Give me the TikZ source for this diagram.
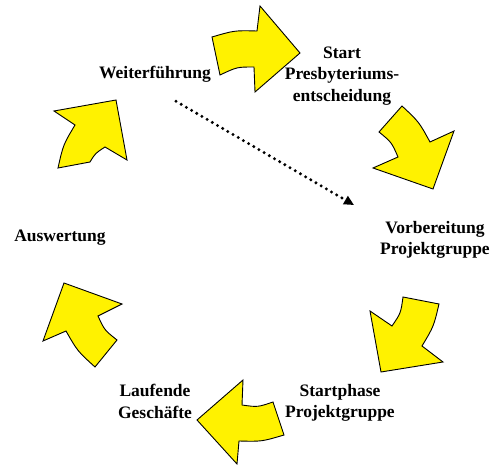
\documentclass[tikz,border=0pt]{standalone}
\usepackage{fontspec}
\setmainfont{Liberation Serif}
\usetikzlibrary{arrows.meta,positioning,calc}
\tikzset{
  >={Triangle[length=10pt,width=9pt]},
  label/.style={font=\bfseries\fontsize{17.5}{21.5}\selectfont,align=center,inner sep=0pt},
  blockarrow/.style={draw=black,fill=yellow,line width=0.9pt,line join=miter},
  dotarrow/.style={->,line width=3.3pt,line cap=round,dash pattern=on 0pt off 6pt},
}
\begin{document}
\begin{tikzpicture}[x=1pt,y=-1pt]
			\useasboundingbox (0,0) rectangle (496,465);
			\node[label] (weiter) at (155,74) {Weiterführung};
			\node[label] (start) at (342,76) {Start\\Presbyteriums-\\entscheidung};
			\node[label] (vorb) at (435,240) {Vorbereitung\\Projektgruppe};
			\node[label] (startph) at (340,403) {Startphase\\Projektgruppe};
			\node[label] (laufend) at (155,401.5) {Laufende\\Geschäfte};
			\node[label] (ausw) at (60,238) {Auswertung};
			\filldraw[blockarrow] (212,37) .. controls (234.5,30.4) .. (257,31) -- (260,6) -- (300,53) -- (255,92) -- (254,67) .. controls (237,67) .. (220,75) -- cycle;
			\filldraw[blockarrow] (402,106) -- (379,132) .. controls (391.6,142.3) .. (398,157) -- (373,168) -- (433,189) -- (454,131) -- (430,142) .. controls (419,121.9) .. cycle;
			\filldraw[blockarrow] (403,297) -- (439,304) .. controls (433.7,326.5) .. (422,346) -- (443,362) -- (381,372) -- (370,311) -- (392,326) .. controls (400.8,313.1) .. cycle;
			\filldraw[blockarrow] (273,402) -- (284,435) .. controls (261.7,441.6) .. (239,441) -- (237,464) -- (197,420) -- (243,380) -- (242,405) .. controls (257.7,407.2) .. cycle;
			\filldraw[blockarrow] (95,367) -- (117,340) .. controls (104.4,330) .. (98,316) -- (122,304) -- (64,283) -- (43,341) -- (66,331) .. controls (77.4,351) .. cycle;
			\filldraw[blockarrow] (58,168) -- (90,162) .. controls (95.3,153.3) .. (105,147) -- (127,160) -- (116,100) -- (54,111) -- (75,125) .. controls (63.2,144.8) .. cycle;
			\draw[dotarrow] ([xshift=21pt,yshift=-19pt]weiter.south) -- ([xshift=-26pt,yshift=16pt]vorb.north west);
		\end{tikzpicture}
\end{document}
